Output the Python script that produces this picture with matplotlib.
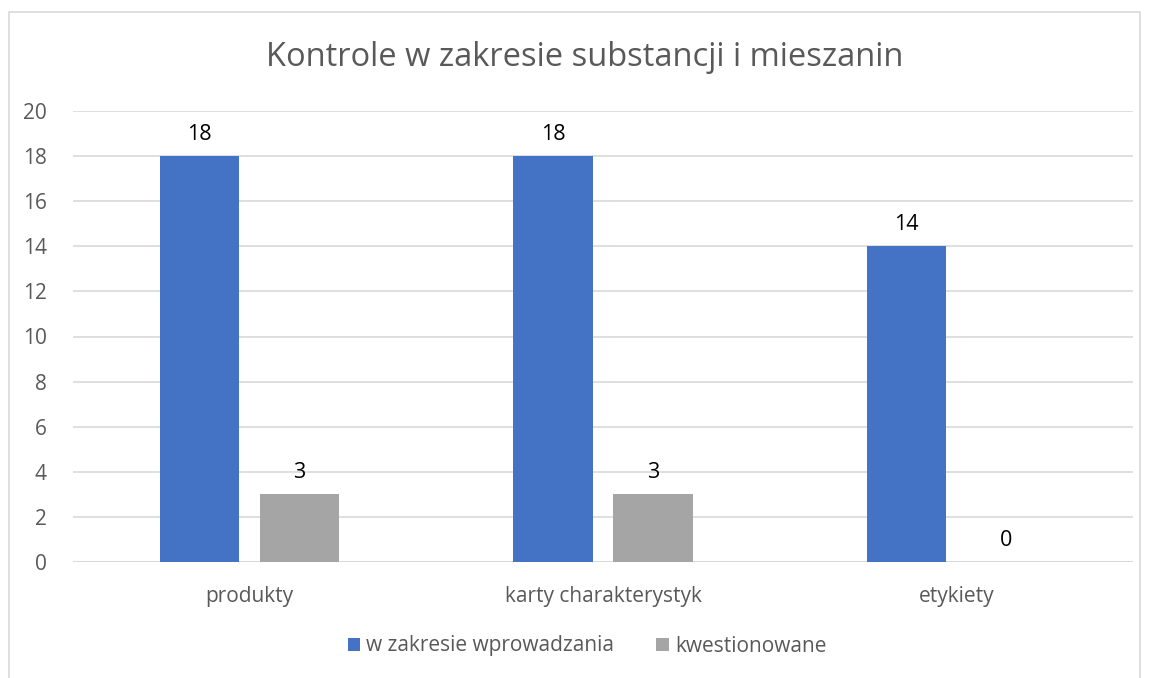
import matplotlib.pyplot as plt
import numpy as np
from matplotlib.patches import Rectangle

categories = ["produkty", "karty charakterystyk", "etykiety"]
wprowadzanie = [18, 18, 14]
kwestionowane = [3, 3, 0]
series_names = ["w zakresie wprowadzania", "kwestionowane"]
yticks = [0, 2, 4, 6, 8, 10, 12, 14, 16, 18, 20]

plt.rcParams['font.family'] = ['Open Sans', 'DejaVu Sans']

fig = plt.figure(figsize=(11.49, 6.78), dpi=100)
ax = fig.add_axes([73/1149, 1 - 562/678, (1133-73)/1149, (562-111)/678])

# chart border
fig.patches.append(Rectangle((9/1149, -0.05), (1140-9)/1149, 1 - 12/678 + 0.05,
                             transform=fig.transFigure, fill=False,
                             edgecolor='#d9d9d9', linewidth=1.2))

x = np.arange(len(categories))
w = 0.224
off = 0.1415
b1 = ax.bar(x - off, wprowadzanie, w, color='#4472c4', label=series_names[0], zorder=3)
b2 = ax.bar(x + off, kwestionowane, w, color='#a5a5a5', label=series_names[1], zorder=3)

for bars, vals in ((b1, wprowadzanie), (b2, kwestionowane)):
    for r, v in zip(bars, vals):
        ax.text(r.get_x() + r.get_width()/2, v + 0.5, str(v), ha='center', va='bottom',
                fontsize=15.5, color='black')

ax.set_xlim(-0.5, 2.5)
ax.set_ylim(0, 20)
ax.set_yticks(yticks)
ax.set_xticks(x)
ax.set_xticklabels(categories)
ax.yaxis.grid(True, color='#d9d9d9', linewidth=1.2, zorder=0)
ax.tick_params(axis='both', length=0, labelsize=15, colors='#595959')
ax.tick_params(axis='x', pad=17)
ax.tick_params(axis='y', pad=19)
for s in ax.spines.values():
    s.set_visible(False)
ax.axhline(0, color='#d9d9d9', linewidth=1.2, zorder=2)

fig.text(585/1149, 1 - 57/678, "Kontrole w zakresie substancji i mieszanin",
         ha='center', va='center', fontsize=23.5, color='#595959')

fig.legend(handles=[b1, b2], labels=series_names, loc='center',
           bbox_to_anchor=(587/1149, 1 - 646/678), ncol=2, frameon=False,
           fontsize=15, handlelength=0.6, handleheight=0.6, handletextpad=0.3,
           columnspacing=2.0, labelcolor='#595959')

fig.savefig("out.png", dpi=100)
